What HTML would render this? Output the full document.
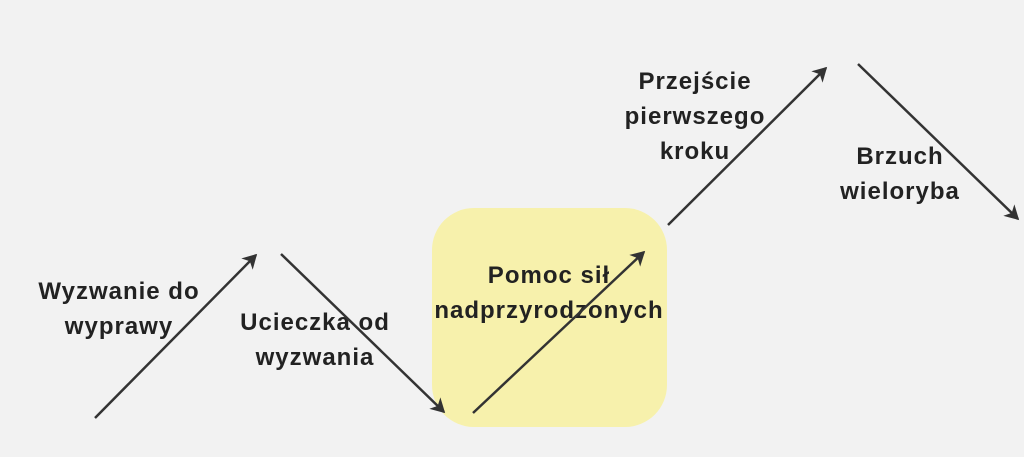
<!DOCTYPE html>
<html><head><meta charset="utf-8"><style>
body{margin:0;width:1024px;height:457px;background:#f2f2f2;overflow:hidden;position:relative;font-family:"Liberation Sans",sans-serif}
.box{position:absolute;left:432px;top:208px;width:235px;height:219px;border-radius:42px;background:#f7f1ac}
.t{position:absolute;font-weight:bold;font-size:24px;letter-spacing:1px;color:#222;text-align:center;line-height:35px;white-space:nowrap;transform:translateX(-50%)}
svg{position:absolute;left:0;top:0}
</style></head><body>
<div class="box"></div>
<div class="t" style="left:119px;top:274px">Wyzwanie do<br>wyprawy</div>
<div class="t" style="left:315px;top:305px">Ucieczka od<br>wyzwania</div>
<div class="t" style="left:549px;top:258px">Pomoc sił<br>nadprzyrodzonych</div>
<div class="t" style="left:695px;top:64px">Przejście<br>pierwszego<br>kroku</div>
<div class="t" style="left:900px;top:139px">Brzuch<br>wieloryba</div>
<svg width="1024" height="457">
<defs><marker id="a" markerWidth="16" markerHeight="16" refX="8" refY="5" orient="auto" markerUnits="userSpaceOnUse" viewBox="0 0 10 10"><path d="M0,0 L9,5 L0,10 L2.5,5 z" fill="#333"/></marker></defs>
<g stroke="#333" stroke-width="2.5" marker-end="url(#a)">
<line x1="95" y1="418" x2="256" y2="255"/>
<line x1="281" y1="254" x2="444" y2="412"/>
<line x1="473" y1="413" x2="644" y2="252"/>
<line x1="668" y1="225" x2="826" y2="68"/>
<line x1="858" y1="64" x2="1018" y2="219"/>
</g></svg>
</body></html>
